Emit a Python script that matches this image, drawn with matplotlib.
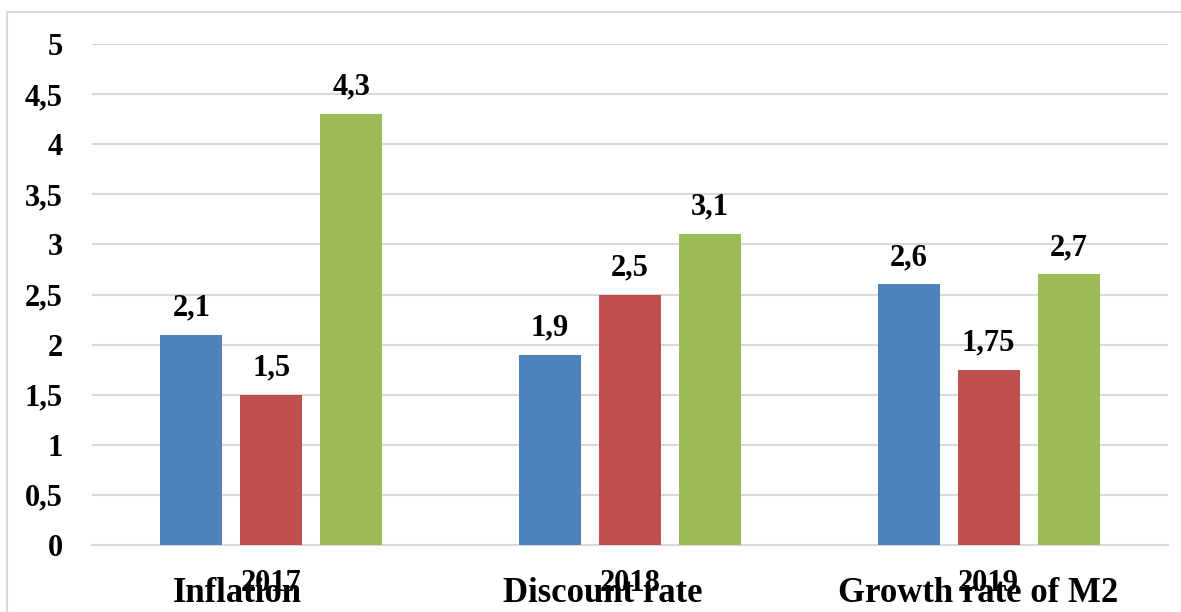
import matplotlib
matplotlib.use("Agg")
import matplotlib.pyplot as plt
from matplotlib.lines import Line2D
import numpy as np

years = ["2017", "2018", "2019"]
series_names = ["Inflation", "Discount rate", "Growth rate of M2"]
inflation = [2.1, 1.9, 2.6]
discount_rate = [1.5, 2.5, 1.75]
growth_m2 = [4.3, 3.1, 2.7]
y_ticks = [0, 0.5, 1, 1.5, 2, 2.5, 3, 3.5, 4, 4.5, 5]

COLORS = ["#4F81BD", "#C0504D", "#9BBB59"]
FONT = "Liberation Serif"


def fmt(v):
    s = f"{v:g}"
    return s.replace(".", ",")


fig = plt.figure(figsize=(11.81, 6.12), dpi=100)
ax = fig.add_axes([92 / 1181, 1 - 545 / 612, 1076 / 1181, 501 / 612])

x = np.arange(len(years))
width = 0.173
offset = 0.223
for i, vals in enumerate([inflation, discount_rate, growth_m2]):
    bars = ax.bar(x + (i - 1) * offset, vals, width, color=COLORS[i], zorder=3)
    for b, v in zip(bars, vals):
        ax.annotate(fmt(v), (b.get_x() + b.get_width() / 2, v),
                    xytext=(0, 9), textcoords="offset points",
                    ha="center", va="bottom", fontsize=22,
                    fontweight="bold", fontfamily=FONT)

ax.set_xlim(-0.5, 2.5)
ax.set_ylim(0, 5)
ax.set_yticks(y_ticks)
ax.set_yticklabels([fmt(t) for t in y_ticks], fontsize=22,
                   fontweight="bold", fontfamily=FONT)
ax.set_xticks(x)
ax.set_xticklabels(years, fontsize=22, fontweight="bold", fontfamily=FONT)
ax.tick_params(axis="both", length=0)
ax.tick_params(axis="y", pad=21)
ax.tick_params(axis="x", pad=17)
ax.grid(axis="y", color="#d9d9d9", linewidth=1.5, zorder=0)
for s in ["top", "right", "left"]:
    ax.spines[s].set_visible(False)
ax.spines["bottom"].set_color("#d9d9d9")
ax.spines["bottom"].set_linewidth(1.5)

# legend text sitting over the year labels, as in the original
for name, px in zip(series_names, [237, 603, 978]):
    fig.text(px / 1181, 1 - 594 / 612, name, ha="center", va="center",
             fontsize=25, fontweight="bold", fontfamily=FONT)

# chart frame
fig.add_artist(Line2D([7 / 1181, 7 / 1181], [0, 1 - 12 / 612],
                      transform=fig.transFigure, color="#d9d9d9", lw=1.5))
fig.add_artist(Line2D([7 / 1181, 1], [1 - 12 / 612, 1 - 12 / 612],
                      transform=fig.transFigure, color="#d9d9d9", lw=1.5))

fig.savefig("out.png", dpi=100)
